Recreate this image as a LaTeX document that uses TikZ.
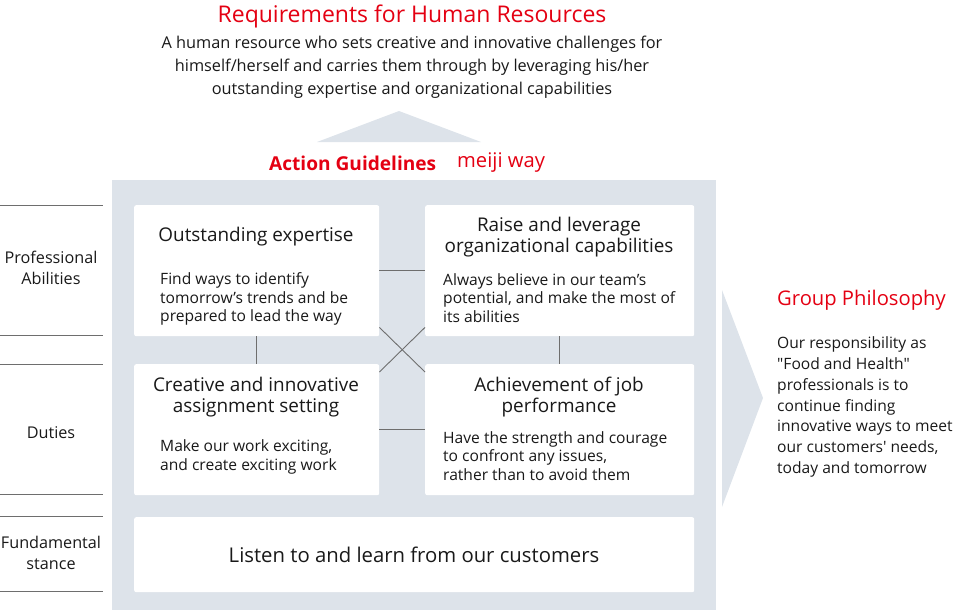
\documentclass[tikz,border=0pt]{standalone}
\usepackage{fontspec}
\setmainfont{Open Sans}[Ligatures=TeXOff]
\definecolor{mred}{RGB}{228,0,18}
\definecolor{mgray}{RGB}{221,227,234}
\definecolor{mtext}{RGB}{25,25,25}
\definecolor{mline}{RGB}{110,110,110}
\begin{document}
\begin{tikzpicture}[x=1pt,y=-1pt,
  wbox/.style={fill=white,rounded corners=2pt,inner sep=0,anchor=north west},
  conn/.style={draw=mline,line width=0.9pt},
  sep/.style={draw=mline,line width=0.9pt},
  ttl/.style={inner sep=0,text=mtext,align=center,font=\fontsize{18.9}{21}\selectfont},
  bod/.style={inner sep=0,text=mtext,align=left,anchor=west,font=\fontsize{15.6}{18.5}\selectfont},
  lab/.style={inner sep=0,text=mtext,align=center,font=\fontsize{16.2}{21}\selectfont},
  redt/.style={inner sep=0,text=mred}]
\useasboundingbox (0,0) rectangle (960,610);
% background shapes
\fill[mgray] (112,180) rectangle (716,610);
\fill[mgray] (317,142) -- (399,111) -- (481,142) -- cycle;
\fill[mgray] (722,290) -- (763,398) -- (722,507) -- cycle;
% top texts
\node[redt,font=\fontsize{23}{25}\selectfont] (req) at (412,16) {Requirements for Human Resources};
\node[inner sep=0,text=mtext,align=center,font=\fontsize{16.3}{23}\selectfont] (reqtxt) at (412,67)
  {A human resource who sets creative and innovative challenges for\\himself/herself and carries them through by leveraging his/her\\outstanding expertise and organizational capabilities};
\node[redt,anchor=west,font=\bfseries\fontsize{19.1}{22}\selectfont] (ag) at (269,163) {Action Guidelines};
\node[redt,anchor=west,font=\fontsize{20.2}{22}\selectfont] (mw) at (457,163) {meiji way};
% left separators
\foreach \yy in {205,335,364,494,516,591} \draw[sep] (0,\yy) -- (103,\yy);
\node[lab] (pa) at (51,268) {Professional\\Abilities};
\node[lab] (du) at (51,433) {Duties};
\node[lab] (fs) at (51,553) {Fundamental\\stance};
% boxes
\node[wbox,minimum width=245,minimum height=131] (b1) at (134,205) {};
\node[wbox,minimum width=269,minimum height=131] (b2) at (425,205) {};
\node[wbox,minimum width=245,minimum height=131] (b3) at (134,364) {};
\node[wbox,minimum width=269,minimum height=131] (b4) at (425,364) {};
\node[wbox,minimum width=560,minimum height=75] (b5) at (134,517) {};
% connectors
\draw[conn] (b1.east) -- (b2.west);
\draw[conn] (b3.east) -- (b4.west);
\draw[conn] (b1.south) -- (b3.north);
\draw[conn] (b2.south) -- (b4.north);
\draw[conn] ([yshift=9pt]b1.south east) -- ([yshift=-8pt]b4.north west);
\draw[conn] ([yshift=-8pt]b3.north east) -- ([yshift=9pt]b2.south west);
% box texts
\node[ttl] (t1) at (256,237) {Outstanding expertise};
\node[bod] (d1) at (160,299) {Find ways to identify\\tomorrow’s trends and be\\prepared to lead the way};
\node[ttl] (t2) at (559,237) {Raise and leverage\\organizational capabilities};
\node[bod] (d2) at (443,298) {Always believe in our team’s\\potential, and make the most of\\its abilities};
\node[ttl] (t3) at (256,397.5) {Creative and innovative\\assignment setting};
\node[bod] (d3) at (160,457) {Make our work exciting,\\and create exciting work};
\node[ttl] (t4) at (559,397.5) {Achievement of job\\performance};
\node[bod] (d4) at (443,456) {Have the strength and courage\\to confront any issues,\\rather than to avoid them};
\node[inner sep=0,text=mtext,font=\fontsize{20.3}{23}\selectfont] (t5) at (414,555) {Listen to and learn from our customers};
% right
\node[redt,anchor=west,font=\fontsize{20.2}{22}\selectfont] (gp) at (777,300) {Group Philosophy};
\node[inner sep=0,text=mtext,align=left,anchor=west,font=\fontsize{15.6}{20.8}\selectfont] (gptxt) at (777,407)
  {Our responsibility as\\"Food and Health"\\professionals is to\\continue finding\\innovative ways to meet\\our customers' needs,\\today and tomorrow};
\end{tikzpicture}
\end{document}
